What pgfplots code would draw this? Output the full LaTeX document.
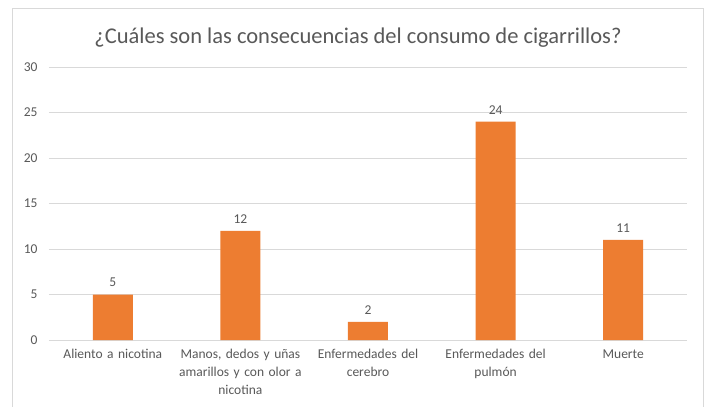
\documentclass[border=0pt]{standalone}
\usepackage{fontspec}
\setmainfont{Carlito}
\usepackage{pgfplots}
\pgfplotsset{compat=1.18}
\definecolor{barorange}{HTML}{ED7D31}
\definecolor{txtgray}{HTML}{595959}
\definecolor{gridgray}{HTML}{D9D9D9}
\definecolor{framegray}{HTML}{D9D9D9}
\begin{document}
\begin{tikzpicture}[x=1pt,y=1pt]
\path[use as bounding box] (0,0) rectangle (710,407);
\fill[white] (0,0) rectangle (710,407);
\draw[framegray, line width=0.8pt] (12,-5) -- (12,399) -- (703,399) -- (703,-5);
\node[text=txtgray, font=\fontsize{22.5}{26}\selectfont] at (358,369) {¿Cuáles son las consecuencias del consumo de cigarrillos?};
\begin{axis}[
  at={(49pt,67pt)}, anchor=south west,
  scale only axis, width=638pt, height=273pt,
  xmin=-0.5, xmax=4.5, ymin=0, ymax=30,
  ytick={0,5,...,30},
  xtick={0,1,2,3,4},
  xticklabels={Aliento a nicotina, {Manos, dedos y uñas\\amarillos y con olor a\\nicotina}, {Enfermedades del\\cerebro}, {Enfermedades del\\pulmón}, Muerte},
  ymajorgrids, grid style={draw=gridgray, line width=0.8pt},
  axis line style={draw=none},
  major tick length=0pt,
  /pgf/number format/assume math mode=true,
  ticklabel style={text=txtgray, font=\fontsize{13.5}{18}\selectfont},
  xticklabel style={align=center, text width=127pt, yshift=-6pt},
  yticklabel style={xshift=-8pt},
  ybar, bar width=40pt,
  nodes near coords,
  every node near coord/.append style={text=txtgray, font=\fontsize{13.5}{15}\selectfont, yshift=4pt},
  clip=false,
]
\addplot[fill=barorange, draw=none] coordinates {(0,5) (1,12) (2,2) (3,24) (4,11)};
\end{axis}
\end{tikzpicture}
\end{document}
